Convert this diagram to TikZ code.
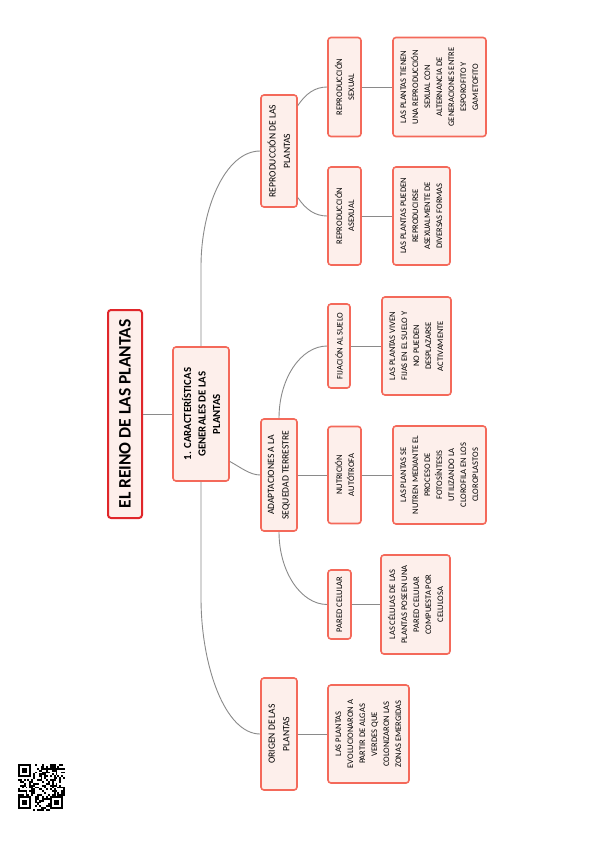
\documentclass[tikz,border=0pt]{standalone}
\usepackage{fontspec}
\setmainfont{Carlito}
\usetikzlibrary{calc}
\definecolor{boxred}{HTML}{F4695A}
\definecolor{rootred}{HTML}{E0262A}
\definecolor{boxfill}{HTML}{FDEFEB}
\definecolor{linegray}{HTML}{8A8A8A}
\begin{document}
\begin{tikzpicture}[x=1pt,y=-1pt,
  box/.style={draw=boxred, fill=boxfill, line width=1.6pt, rounded corners=3pt,
    rotate=90, inner sep=0pt, align=center, text=black},
  rootbox/.style={box, draw=rootred, line width=2pt, font=\fontsize{17.5}{20}\selectfont\bfseries},
  mainbox/.style={box, font=\fontsize{10.8}{14.5}\selectfont\bfseries},
  midbox/.style={box, font=\fontsize{9.6}{14.5}\selectfont},
  leafbox/.style={box, font=\fontsize{8.5}{12}\selectfont},
  conn/.style={draw=linegray, line width=0.9pt}]
\useasboundingbox (0,0) rectangle (599,848);
\fill[white] (0,0) rectangle (599,848);

% nodes
\node[rootbox, minimum width=208pt, minimum height=34pt] (root) at (125,414) {EL REINO DE LAS PLANTAS};
\node[mainbox, minimum width=134pt, minimum height=56pt] (main) at (201,414) {1. CARACTERÍSTICAS\\GENERALES DE LAS\\PLANTAS};

\node[midbox, minimum width=112pt, minimum height=36pt] (repro) at (279,151) {REPRODUCCIÓN DE LAS\\PLANTAS};
\node[midbox, minimum width=112pt, minimum height=36pt] (adapt) at (279,475) {ADAPTACIONES A LA\\SEQUEDAD TERRESTRE};
\node[midbox, minimum width=112pt, minimum height=36pt] (origen) at (279,734) {ORIGEN DE LAS\\PLANTAS};

\node[leafbox, minimum width=99pt, minimum height=33pt] (sexual) at (344.5,87) {REPRODUCCIÓN\\SEXUAL};
\node[leafbox, minimum width=99pt, minimum height=93pt] (sexualtxt) at (439.5,87) {LAS PLANTAS TIENEN\\UNA REPRODUCCIÓN\\SEXUAL CON\\ALTERNANCIA DE\\GENERACIONES ENTRE\\ESPOROFITO Y\\GAMETOFITO};
\node[leafbox, minimum width=98pt, minimum height=33pt] (asexual) at (344.5,216) {REPRODUCCIÓN\\ASEXUAL};
\node[leafbox, minimum width=98pt, minimum height=57pt] (asexualtxt) at (421.5,216) {LAS PLANTAS PUEDEN\\REPRODUCIRSE\\ASEXUALMENTE DE\\DIVERSAS FORMAS};

\node[leafbox, minimum width=84pt, minimum height=22pt] (fija) at (339,346) {FIJACIÓN AL SUELO};
\node[leafbox, minimum width=98pt, minimum height=69pt] (fijatxt) at (416.5,346) {LAS PLANTAS VIVEN\\FIJAS EN EL SUELO Y\\NO PUEDEN\\DESPLAZARSE\\ACTIVAMENTE};
\node[leafbox, minimum width=97pt, minimum height=33pt] (nutri) at (344.5,475) {NUTRICIÓN\\AUTÓTROFA};
\node[leafbox, minimum width=98pt, minimum height=93pt] (nutritxt) at (439.5,475) {LAS PLANTAS SE\\NUTREN MEDIANTE EL\\PROCESO DE\\FOTOSÍNTESIS\\UTILIZANDO LA\\CLOROFILA EN LOS\\CLOROPLASTOS};
\node[leafbox, minimum width=69pt, minimum height=23pt] (pared) at (339.5,604.5) {PARED CELULAR};
\node[leafbox, minimum width=99pt, minimum height=69pt] (paredtxt) at (415.5,604.5) {LAS CÉLULAS DE LAS\\PLANTAS POSEEN UNA\\PARED CELULAR\\COMPUESTA POR\\CELULOSA};
\node[leafbox, minimum width=98pt, minimum height=81pt] (origentxt) at (368.5,734) {LAS PLANTAS\\EVOLUCIONARON A\\PARTIR DE ALGAS\\VERDES QUE\\COLONIZARON LAS\\ZONAS EMERGIDAS};

% connectors
\draw[conn] (root.south) -- (main.north);
\draw[conn] (main.east) -- ++(0,-80) .. controls +(0,-57) and (225,151) .. (repro.north);
\draw[conn] (main.west) -- ++(0,116) .. controls +(0,68) and (225,734) .. (origen.north);
\draw[conn] ($(main.south)!0.7!(main.south west)$) .. controls +(11,6) and (250,475) .. (adapt.north);

\draw[conn] ($(repro.south)!0.8!(repro.south east)$) .. controls +(8,-12) and (315,87) .. (sexual.north);
\draw[conn] ($(repro.south)!0.82!(repro.south west)$) .. controls +(8,12) and (315,216) .. (asexual.north);
\draw[conn] (sexual.south) -- (sexualtxt.north);
\draw[conn] (asexual.south) -- (asexualtxt.north);

\draw[conn] (adapt.east) .. controls +(0,-40) and (301,346) .. (fija.north);
\draw[conn] (adapt.west) .. controls +(0,40) and (301,604.5) .. (pared.north);
\draw[conn] (adapt.south) -- (nutri.north);
\draw[conn] (fija.south) -- (fijatxt.north);
\draw[conn] (nutri.south) -- (nutritxt.north);
\draw[conn] (pared.south) -- (paredtxt.north);
\draw[conn] (origen.south) -- (origentxt.north);

% QR code (pattern)
\begin{scope}[shift={(18,764)}]
  \pgfmathsetseed{4711}
  \foreach \i in {0,...,24}{
    \foreach \j in {0,...,24}{
      \pgfmathtruncatemacro\q{rnd<0.5?1:0}
      \ifnum\q=1 \fill[black] (\i*1.88,\j*1.88) rectangle ++(1.88,1.88);\fi
    }
  }
  \foreach \a/\b in {0/0,0/17,17/17}{
    \fill[white] (\a*1.88-0.01,\b*1.88-0.01) rectangle ++(8*1.88,8*1.88);
    \fill[black] (\a*1.88,\b*1.88) rectangle ++(7*1.88,7*1.88);
    \fill[white] (\a*1.88+1.88,\b*1.88+1.88) rectangle ++(5*1.88,5*1.88);
    \fill[black] (\a*1.88+2*1.88,\b*1.88+2*1.88) rectangle ++(3*1.88,3*1.88);
  }
\end{scope}
\end{tikzpicture}
\end{document}
